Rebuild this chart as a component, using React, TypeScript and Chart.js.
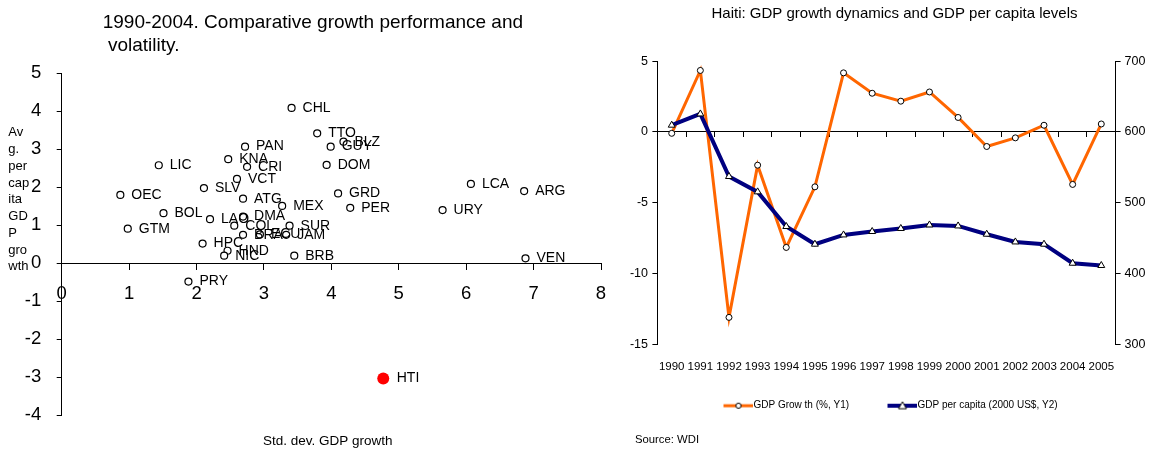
import React, { useEffect, useRef } from 'react';
import { Chart, registerables } from 'chart.js';

Chart.register(...registerables);

// ---------------- Data: left scatter ----------------
const countryCodes = ['CHL', 'TTO', 'BLZ', 'GUY', 'PAN', 'KNA', 'CRI', 'LIC', 'DOM', 'VCT', 'SLV', 'OEC', 'GRD', 'ATG', 'LCA', 'ARG', 'MEX', 'PER', 'URY', 'BOL', 'LAO', 'DMA', 'COL', 'SUR', 'GTM', 'BRA', 'ECU', 'JAM', 'HPC', 'HND', 'NIC', 'BRB', 'VEN', 'PRY'];
const volatility = [3.41, 3.79, 4.18, 3.99, 2.72, 2.47, 2.75, 1.44, 3.93, 2.6, 2.11, 0.87, 4.1, 2.69, 6.07, 6.86, 3.27, 4.28, 5.65, 1.51, 2.2, 2.69, 2.56, 3.38, 0.98, 2.69, 2.94, 3.33, 2.09, 2.46, 2.41, 3.45, 6.88, 1.88];
const avgGrowth = [4.09, 3.42, 3.2, 3.07, 3.07, 2.74, 2.54, 2.58, 2.59, 2.22, 1.98, 1.8, 1.84, 1.7, 2.09, 1.9, 1.51, 1.46, 1.4, 1.32, 1.16, 1.23, 0.99, 0.99, 0.91, 0.75, 0.76, 0.75, 0.52, 0.33, 0.2, 0.2, 0.13, -0.48];
const haitiCode = ['HTI'];
const haitiVolatility = [4.77];
const haitiGrowth = [-3.03];

const scatterTitle = ['1990-2004. Comparative growth performance and', ' volatility.'];
const scatterYTitle = ['Av', 'g.', 'per', 'cap', 'ita', 'GD', 'P', 'gro', 'wth'];
const scatterXTitle = 'Std. dev. GDP growth';

// ---------------- Data: right line chart ----------------
const years = ['1990', '1991', '1992', '1993', '1994', '1995', '1996', '1997', '1998', '1999', '2000', '2001', '2002', '2003', '2004', '2005'];
const gdpGrowth = [-0.1, 4.34, -13.1, -2.35, -8.16, -3.88, 4.17, 2.73, 2.17, 2.82, 1.02, -1.03, -0.42, 0.47, -3.71, 0.56];
const gdpPerCapita = [609.5, 625.4, 537, 515.3, 466.4, 441.4, 454.5, 459.3, 463.6, 468.6, 467.2, 455.5, 444.6, 441.4, 414.5, 411.3];
const growthLabel = 'GDP Grow th (%, Y1)';
const perCapitaLabel = 'GDP per capita (2000 US$, Y2)';
const lineTitle = 'Haiti: GDP growth dynamics and GDP per capita levels';
const sourceNote = 'Source: WDI';

const SANS = "'Liberation Sans', Arial, sans-serif";
const ORANGE = '#FF6600';
const NAVY = '#000080';

const pointLabelPlugin = {
  id: 'pointLabels',
  afterDatasetsDraw(chart: any) {
    const ctx = chart.ctx;
    ctx.save();
    ctx.font = `14px ${SANS}`;
    ctx.fillStyle = '#000';
    ctx.textBaseline = 'middle';
    ctx.textAlign = 'left';
    chart.data.datasets.forEach((ds: any, di: number) => {
      const meta = chart.getDatasetMeta(di);
      meta.data.forEach((el: any, i: number) => {
        ctx.fillText(ds.codes[i], el.x + ds.pointRadius + 7.5, el.y);
      });
    });
    ctx.restore();
  },
};

const staticTextPlugin = {
  id: 'staticText',
  afterDraw(chart: any, _args: any, opts: any) {
    const ctx = chart.ctx;
    (opts.items || []).forEach((it: any) => {
      ctx.save();
      ctx.font = it.font;
      ctx.fillStyle = '#000';
      ctx.textAlign = it.align || 'left';
      ctx.textBaseline = it.baseline || 'middle';
      ctx.fillText(it.text, it.x, it.y);
      ctx.restore();
    });
  },
};

// Legend icon: a 30px line segment (with its marker) at the right end of a wider transparent image
function makeIcon(color: string, lw: number, shape: 'circle' | 'triangle') {
  const c = document.createElement('canvas');
  c.width = 47;
  c.height = 12;
  const g = c.getContext('2d')!;
  g.strokeStyle = color;
  g.lineWidth = lw;
  g.beginPath();
  g.moveTo(17, 6);
  g.lineTo(47, 6);
  g.stroke();
  g.fillStyle = '#fff';
  g.strokeStyle = '#000';
  g.lineWidth = 1;
  g.beginPath();
  if (shape === 'circle') {
    g.arc(32, 6, 2.6, 0, Math.PI * 2);
  } else {
    g.moveTo(32, 2);
    g.lineTo(36, 9);
    g.lineTo(28, 9);
    g.closePath();
  }
  g.fill();
  g.stroke();
  return c;
}

export default function App() {
  const leftRef = useRef<HTMLCanvasElement>(null);
  const rightRef = useRef<HTMLCanvasElement>(null);

  useEffect(() => {
    const scatterPoints = countryCodes.map((_, i) => ({ x: volatility[i], y: avgGrowth[i] }));
    const haitiPoints = haitiCode.map((_, i) => ({ x: haitiVolatility[i], y: haitiGrowth[i] }));

    const left = new Chart(leftRef.current!, {
      type: 'scatter',
      data: {
        datasets: [
          {
            data: scatterPoints,
            codes: countryCodes,
            pointRadius: 3.5,
            pointBackgroundColor: '#fff',
            pointBorderColor: '#000',
            pointBorderWidth: 1.2,
          } as any,
          {
            data: haitiPoints,
            codes: haitiCode,
            pointRadius: 6,
            pointBackgroundColor: '#FF0000',
            pointBorderColor: '#FF0000',
            pointBorderWidth: 0,
          } as any,
        ],
      },
      options: {
        responsive: false,
        animation: false,
        devicePixelRatio: 1,
        layout: { padding: { left: 0, top: 73.3, right: 14, bottom: 35.7 } },
        scales: {
          x: {
            type: 'linear',
            min: 0,
            max: 8,
            position: { y: 0 } as any,
            ticks: { stepSize: 1, font: { family: SANS, size: 18.5 }, color: '#000', padding: 13.3 },
            grid: { drawOnChartArea: false, tickLength: 6, color: '#000' },
            border: { color: '#000', width: 1 },
            afterFit: (s: any) => { s.paddingLeft = 0; s.paddingRight = 0; },
          },
          y: {
            type: 'linear',
            min: -4,
            max: 5,
            position: 'left',
            ticks: { stepSize: 1, font: { family: SANS, size: 18.5 }, color: '#000', padding: 15.5 },
            grid: { drawOnChartArea: false, tickLength: 5, color: '#000' },
            border: { color: '#000', width: 1 },
            afterFit: (s: any) => { s.width = 61.7; s.paddingTop = 0; s.paddingBottom = 0; },
          },
        },
        plugins: {
          legend: { display: false },
          tooltip: { enabled: false },
          staticText: {
            items: [
              { text: scatterTitle[0], x: 102.7, y: 28.3, font: `19px ${SANS}`, baseline: 'alphabetic' },
              { text: scatterTitle[1], x: 102.7, y: 50.5, font: `19px ${SANS}`, baseline: 'alphabetic' },
              ...scatterYTitle.map((t, i) => ({ text: t, x: 8.3, y: 132.7 + i * 16.75, font: `13px ${SANS}` })),
              { text: scatterXTitle, x: 327.7, y: 441.7, font: `13.5px ${SANS}`, align: 'center' },
            ],
          },
        } as any,
      },
      plugins: [pointLabelPlugin, staticTextPlugin],
    });

    const icons = [makeIcon(ORANGE, 3, 'circle'), makeIcon(NAVY, 4, 'triangle')];

    const right = new Chart(rightRef.current!, {
      type: 'line',
      data: {
        labels: years,
        datasets: [
          {
            label: growthLabel,
            data: gdpGrowth,
            xAxisID: 'x',
            yAxisID: 'y',
            borderColor: ORANGE,
            backgroundColor: ORANGE,
            borderWidth: 3,
            pointStyle: 'circle',
            pointRadius: 3,
            pointBackgroundColor: '#fff',
            pointBorderColor: '#000',
            pointBorderWidth: 1,
            tension: 0,
            order: 1,
          },
          {
            label: perCapitaLabel,
            data: gdpPerCapita,
            xAxisID: 'x',
            yAxisID: 'y1',
            borderColor: NAVY,
            backgroundColor: NAVY,
            borderWidth: 4,
            pointStyle: 'triangle',
            pointRadius: 4,
            pointBackgroundColor: '#fff',
            pointBorderColor: '#000',
            pointBorderWidth: 1,
            tension: 0,
            order: 0,
          },
        ],
      },
      options: {
        responsive: false,
        animation: false,
        devicePixelRatio: 1,
        layout: { padding: { left: 0, right: 0, top: 61.1, bottom: 30.3 } },
        scales: {
          x: {
            type: 'category',
            position: { y: 0 } as any,
            offset: true,
            grid: { offset: true, drawOnChartArea: false, drawTicks: true, tickLength: 5, color: '#000' },
            border: { display: true, color: '#000', width: 1 },
            ticks: { display: false },
            afterFit: (s: any) => { s.paddingLeft = 0; s.paddingRight = 0; },
          },
          x2: {
            type: 'category',
            position: 'bottom',
            offset: true,
            grid: { display: false, drawTicks: false },
            border: { display: false },
            ticks: { autoSkip: false, maxRotation: 0, minRotation: 0, padding: 15.5, color: '#000', font: { family: SANS, size: 11.5 } },
            afterFit: (s: any) => { s.height = 30; s.paddingLeft = 0; s.paddingRight = 0; },
          },
          y: {
            type: 'linear',
            position: 'left',
            min: -15,
            max: 5,
            ticks: { stepSize: 5, color: '#000', padding: 4.4, font: { family: SANS, size: 12.5 } },
            grid: { drawOnChartArea: false, tickLength: 5, color: '#000' },
            border: { color: '#000', width: 1 },
            afterFit: (s: any) => { s.width = 42.4; s.paddingTop = 0; s.paddingBottom = 0; },
          },
          y1: {
            type: 'linear',
            position: 'right',
            min: 300,
            max: 700,
            ticks: { stepSize: 100, color: '#000', padding: 4, font: { family: SANS, size: 12.5 } },
            grid: { drawOnChartArea: false, tickLength: 5, color: '#000' },
            border: { color: '#000', width: 1 },
            afterFit: (s: any) => { s.width = 38.4; s.paddingTop = 0; s.paddingBottom = 0; },
          },
        },
        plugins: {
          tooltip: { enabled: false },
          title: { display: false },
          staticText: {
            items: [
              { text: lineTitle, x: 279.5, y: 14.3, font: `15px ${SANS}`, align: 'center' },
              { text: sourceNote, x: 20, y: 440, font: `11.3px ${SANS}` },
            ],
          },
          legend: {
            display: true,
            position: 'bottom',
            labels: {
              usePointStyle: true,
              pointStyleWidth: 37,
              padding: 26.4,
              color: '#000',
              font: { family: SANS, size: 10 },
              generateLabels: (chart: any) =>
                chart.data.datasets.map((ds: any, i: number) => ({
                  text: ds.label,
                  pointStyle: icons[i],
                  fillStyle: ds.borderColor,
                  strokeStyle: ds.borderColor,
                  lineWidth: 0,
                  hidden: false,
                  datasetIndex: i,
                  fontColor: '#000',
                })),
            },
          },
        } as any,
      },
      plugins: [staticTextPlugin],
    });

    return () => {
      left.destroy();
      right.destroy();
    };
  }, []);

  return (
    <div style={{ position: 'absolute', left: 0, top: 0, width: 1154, height: 451, background: '#fff' }}>
      <canvas ref={leftRef} width={615} height={451} style={{ position: 'absolute', left: 0, top: 0, width: 615, height: 451 }} />
      <canvas ref={rightRef} width={539} height={451} style={{ position: 'absolute', left: 615, top: 0, width: 539, height: 451 }} />
    </div>
  );
}
